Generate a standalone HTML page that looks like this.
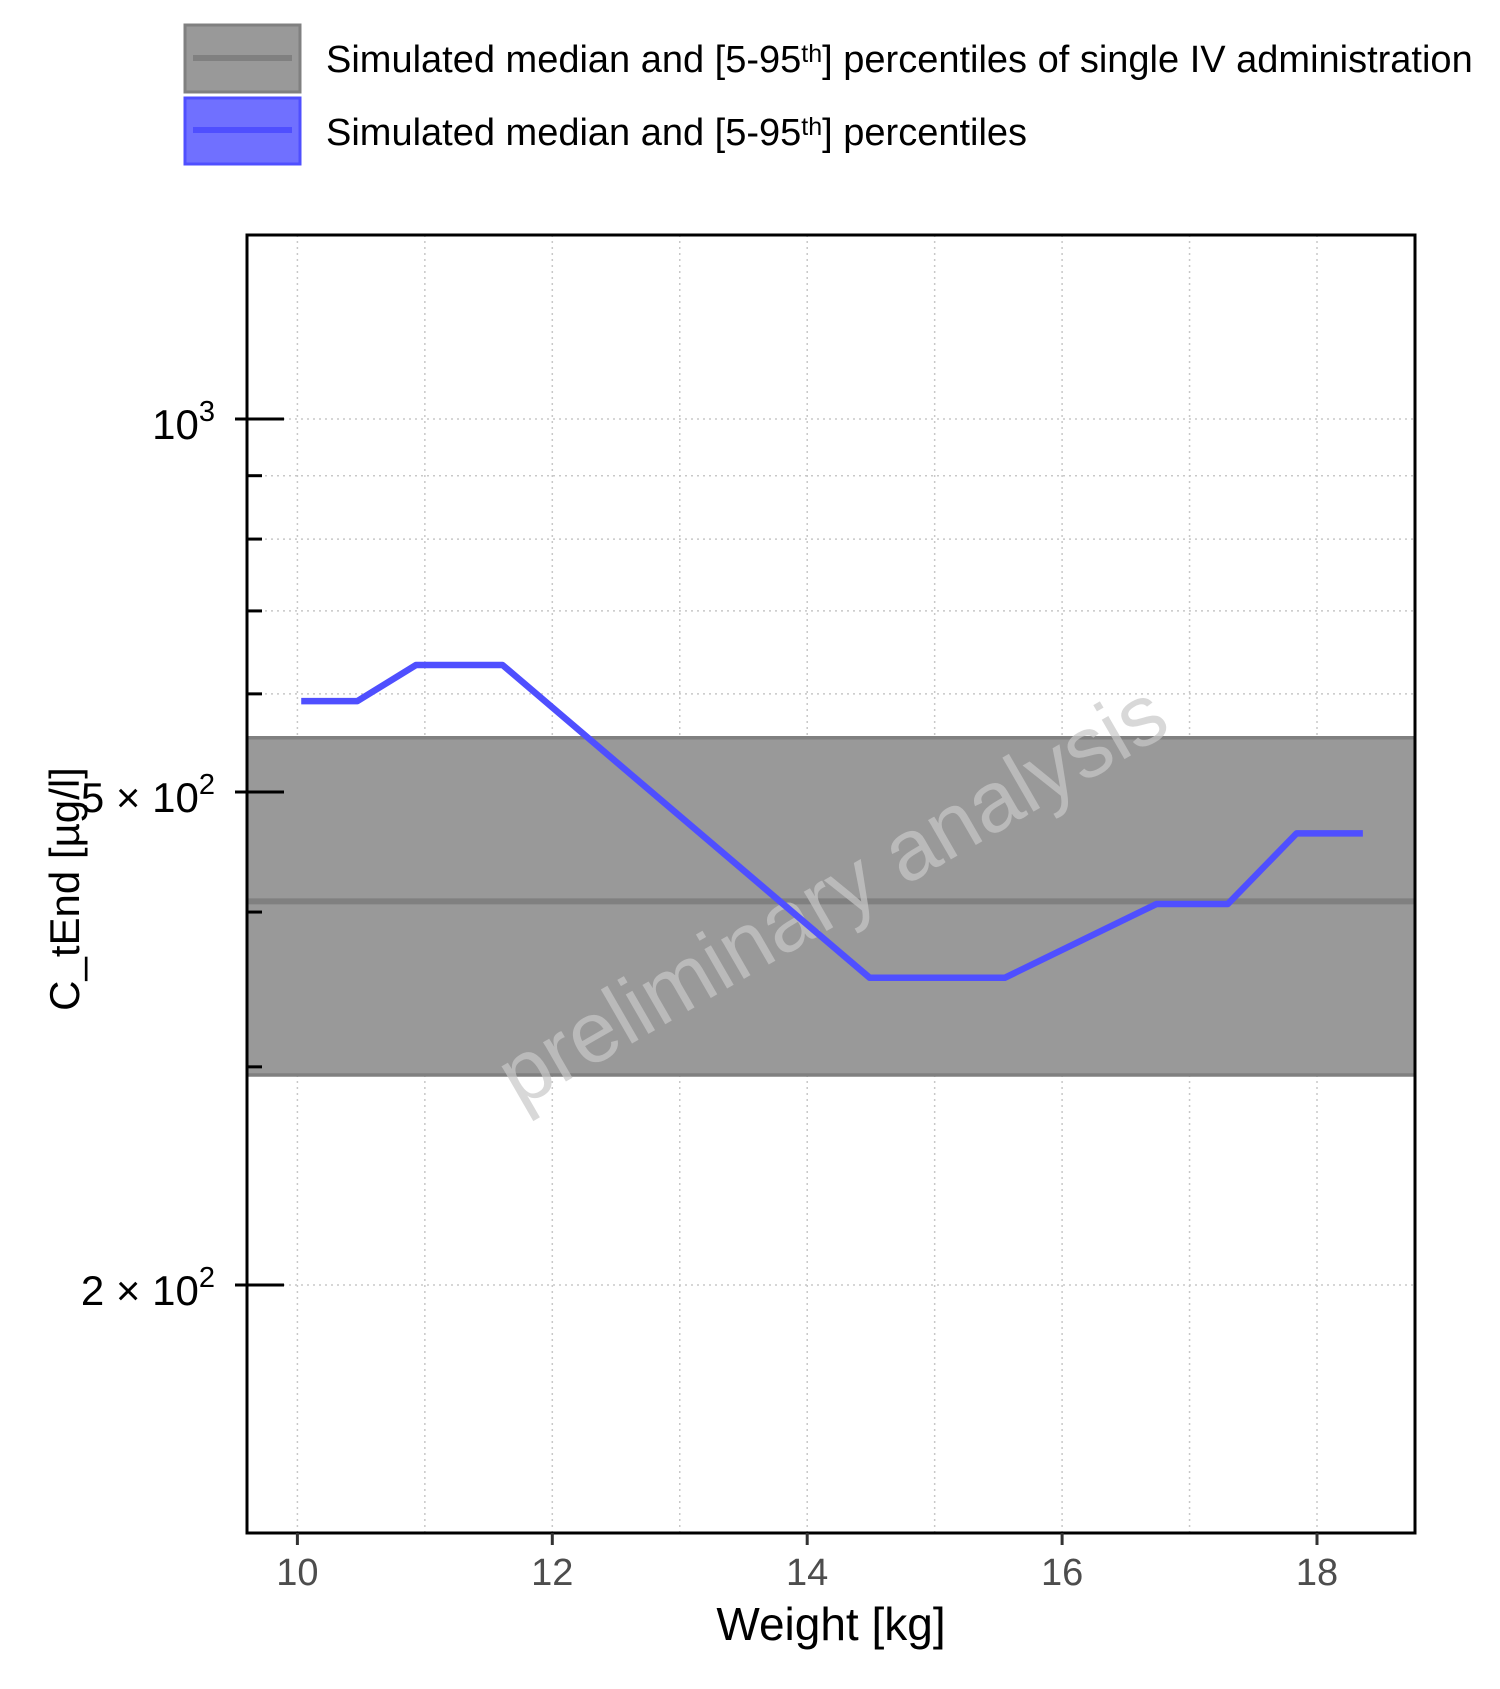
<!DOCTYPE html>
<html><head><meta charset="utf-8"><style>
html,body{margin:0;padding:0;background:#fff;}
svg{display:block;font-family:"Liberation Sans",sans-serif;}
</style></head><body>
<svg id="chart" width="1500" height="1689" viewBox="0 0 1500 1689">
<g>
  <g>
    <rect x="185" y="25" width="115" height="67" fill="#999999" stroke="#808080" stroke-width="3"/>
    <line x1="193" y1="58" x2="292" y2="58" stroke="#808080" stroke-width="6"/>
    <text x="326" y="72" font-size="38" fill="#000">Simulated median and [5-95<tspan font-size="25" dy="-10">th</tspan><tspan dy="10">] percentiles of single IV administration</tspan></text>
  </g>
  <g>
    <rect x="185" y="98" width="115" height="66" fill="#7070ff" stroke="#4f4fff" stroke-width="3"/>
    <line x1="193" y1="130" x2="292" y2="130" stroke="#4f4fff" stroke-width="6"/>
    <text x="326" y="145" font-size="38" fill="#000">Simulated median and [5-95<tspan font-size="25" dy="-10">th</tspan><tspan dy="10">] percentiles</tspan></text>
  </g>
</g>
<g id="grid"></g>
<g id="band"></g>
<text x="835" y="900" font-size="86" fill="#c8c8c8" fill-opacity="0.7" text-anchor="middle" dominant-baseline="middle" transform="rotate(-30 835 900)">preliminary analysis</text>
<g id="series"></g>
<rect x="247" y="235" width="1168" height="1298" fill="none" stroke="#000" stroke-width="3"/>
<g id="axes"></g>
<text x="831" y="1640" font-size="46" text-anchor="middle" fill="#000">Weight [kg]</text>
<text x="0" y="0" font-size="42" text-anchor="middle" fill="#000" transform="translate(79 889) rotate(-90)">C_tEnd [µg/l]</text>
</svg>
<script>
const xTicks=[10,12,14,16,18];
const xMinor=[11,13,15,17];
const yMajor=[1000,500,200];
const yMajorLabels=[["10","3"],["5 \u00d7 10","2"],["2 \u00d7 10","2"]];
const yMinor=[900,800,700,600,400,300];
const weights=[10.03,10.47,10.93,11.61,14.49,15.55,16.74,17.30,17.84,18.36];
const conc=[592,592,633,633,354,354,406,406,463,463];
const ivLow=295.5, ivMed=408, ivHigh=553;
const NS="http://www.w3.org/2000/svg";
const L=247,R=1415,T=235,B=1533;
function sx(v){return 297.4+(v-10)*127.45;}
function sy(v){return 419+(3-Math.log10(v))*1239;}
function mk(tag,attrs,parent){const e=document.createElementNS(NS,tag);for(const k in attrs)e.setAttribute(k,attrs[k]);parent.appendChild(e);return e;}
const grid=document.getElementById('grid'),axes=document.getElementById('axes'),band=document.getElementById('band'),series=document.getElementById('series');
xTicks.concat(xMinor).forEach(v=>{const l=mk('line',{x1:sx(v),x2:sx(v),y1:T,y2:B,stroke:'#c8c8c8','stroke-width':1.5,'stroke-dasharray':'2 4'},grid);

});
yMajor.concat(yMinor).forEach(v=>{const l=mk('line',{x1:L,x2:R,y1:sy(v),y2:sy(v),stroke:'#c8c8c8','stroke-width':1.5,'stroke-dasharray':'2 4'},grid);

});
const r=mk('rect',{x:L,y:sy(ivHigh),width:R-L,height:sy(ivLow)-sy(ivHigh),fill:'#999999'},band);


[ivHigh,ivLow].forEach(v=>{const l=mk('line',{x1:L,x2:R,y1:sy(v),y2:sy(v),stroke:'#808080','stroke-width':3.5},band);

});
const m=mk('line',{x1:L,x2:R,y1:sy(ivMed),y2:sy(ivMed),stroke:'#808080','stroke-width':6},band);


const p=mk('polyline',{points:weights.map((w,i)=>sx(w)+','+sy(conc[i])).join(' '),fill:'none',stroke:'#4f4fff','stroke-width':6.5,'stroke-linejoin':'round'},series);


xTicks.forEach(v=>{const t=mk('line',{x1:sx(v),x2:sx(v),y1:B,y2:B+12,stroke:'#333','stroke-width':3},axes);


const tx=mk('text',{x:sx(v),y:B+52,'font-size':38,fill:'#4d4d4d','text-anchor':'middle'},axes);tx.textContent=v;

});
yMajor.forEach((v,i)=>{const t=mk('line',{x1:L-12,x2:L+37,y1:sy(v),y2:sy(v),stroke:'#000','stroke-width':3},axes);


const tx=mk('text',{x:215,y:sy(v)+20,'font-size':42,fill:'#000','text-anchor':'end'},axes);
tx.textContent=yMajorLabels[i][0];
const sup=mk('tspan',{'font-size':29,dy:-18},tx);sup.textContent=yMajorLabels[i][1];

});
yMinor.forEach(v=>{const t=mk('line',{x1:L,x2:L+15,y1:sy(v),y2:sy(v),stroke:'#000','stroke-width':3},axes);

});
</script>
</body></html>
